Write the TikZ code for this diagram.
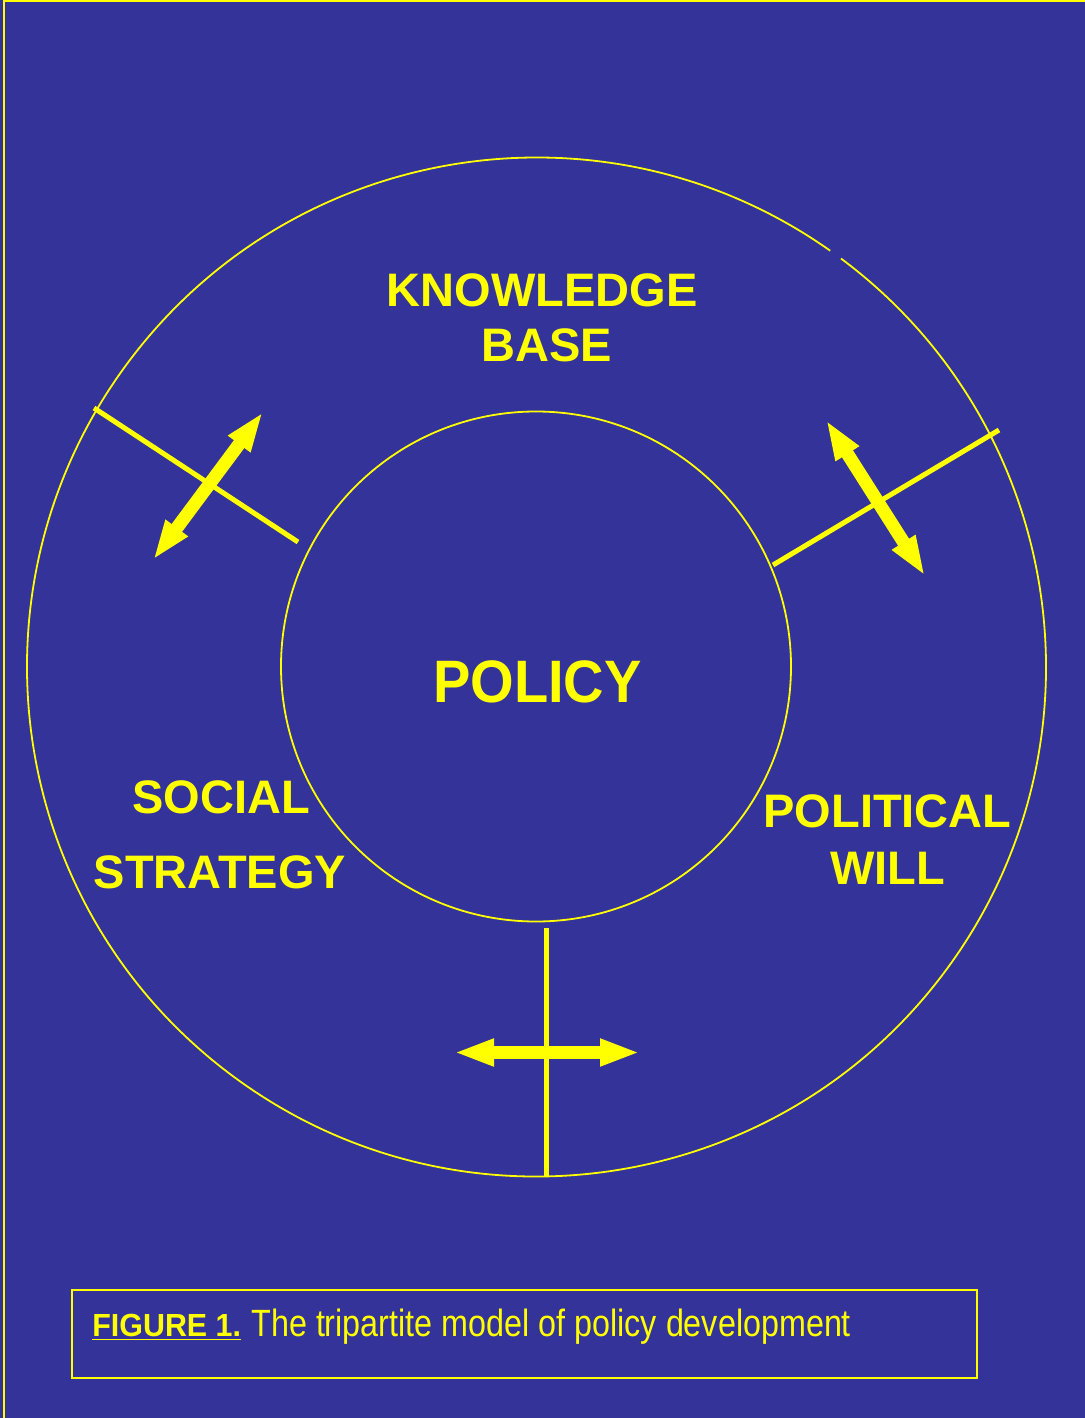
\documentclass[tikz,border=0pt]{standalone}
\usepackage{fontspec}
\setmainfont{Liberation Sans}
\usepackage{tikz}
\usetikzlibrary{arrows.meta}
\definecolor{bgblue}{RGB}{51,51,153}
\definecolor{ylw}{RGB}{255,255,0}
\tikzset{
  ring/.style={draw=ylw, line width=0.9pt},
  divider/.style={draw=ylw, line width=2.5pt},
  twoway/.style={draw=ylw, line width=6.5pt,
    {Triangle[length=20pt 0,width=12.5pt 0]}-{Triangle[length=20pt 0,width=12.5pt 0]}},
  bigword/.style={text=ylw, inner sep=0pt, anchor=base, font=\bfseries\fontsize{23.5}{28}\selectfont}
}
\begin{document}
\begin{tikzpicture}[x=0.5pt,y=0.5pt,yscale=-1,xscale=1]
\useasboundingbox (0,0) rectangle (1085,1418);
%Shape: Rectangle (background)
\fill [bgblue] (0,0) rectangle (1085,1418);
\draw [ylw, line width=1pt] (4,1418) -- (4,0.75) -- (1085,0.75);

\coordinate (mid) at (536.5,667);
\coordinate (core) at (536,666.5);

%Shape: Circle (outer ring, small gap top right)
\draw [ring] (mid) ++(-53.3:509.5) arc [start angle=-53.3, end angle=305.2, radius=509.5];
%Shape: Circle (policy)
\draw [ring] (core) circle [radius=255];

%Straight Lines
\coordinate (divLa) at (94,408);
\coordinate (divLb) at (298,542);
\coordinate (divRa) at (773,565);
\coordinate (divRb) at (999,430);
\coordinate (divBa) at (546.5,928);
\coordinate (divBb) at (546.5,1176);
\draw [divider] (divLa) -- (divLb);
\draw [divider] (divRa) -- (divRb);
\draw [divider] (divBa) -- (divBb);

%Double Arrows
\coordinate (arrLa) at (153,560);
\coordinate (arrLb) at (263,412);
\coordinate (arrRa) at (826,420);
\coordinate (arrRb) at (925,576);
\coordinate (arrBa) at (454,1052.5);
\coordinate (arrBb) at (640,1052.5);
\draw [twoway] (arrLa) -- (arrLb);
\draw [twoway] (arrRa) -- (arrRb);
\draw [twoway] (arrBa) -- (arrBb);

% Text Node
\node (know) [bigword] at (542,306.7) {KNOWLEDGE};
% Text Node
\node (base) [bigword] at (546.7,361.7) {BASE};
% Text Node
\node (policy) [bigword, font=\bfseries\fontsize{28}{32}\selectfont] at (537.5,702.7) {\scalebox{1}[1.07]{POLICY}};
% Text Node
\node (social) [bigword] at (221,813) {SOCIAL};
% Text Node
\node (strategy) [bigword] at (220,888) {STRATEGY};
% Text Node
\node (political) [bigword] at (887.4,827.7) {POLITICAL};
% Text Node
\node (will) [bigword] at (887.5,884) {WILL};

%Shape: Rectangle (caption box)
\draw [ylw, line width=1pt] (72,1290) rectangle (977,1378);
% Text Node
\node (fig) [text=ylw, inner sep=0pt, anchor=base west, font=\bfseries\fontsize{16}{19}\selectfont] at (92,1336.7) {\underline{\scalebox{0.95}[1]{FIGURE 1.}}};
% Text Node
\node (caption) [text=ylw, inner sep=0pt, anchor=base west, font=\fontsize{19}{22}\selectfont] at (251,1336.7) {\scalebox{0.85}[1]{The tripartite model of policy development}};

\end{tikzpicture}
\end{document}
